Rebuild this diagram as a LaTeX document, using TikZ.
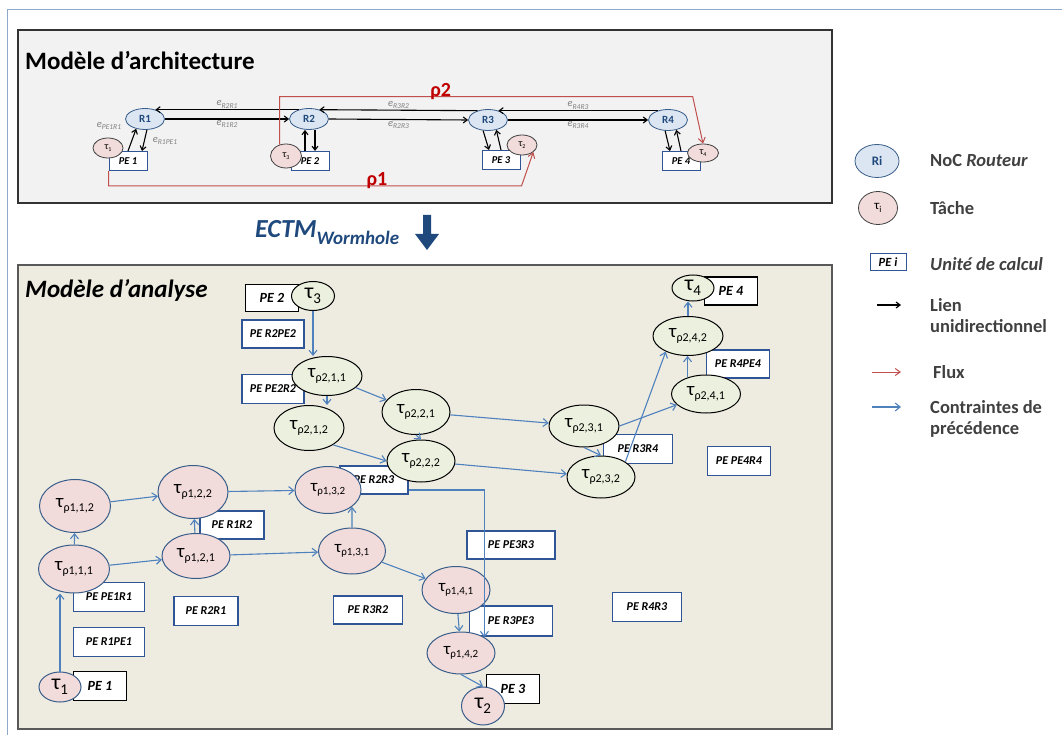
\documentclass[tikz,border=0pt]{standalone}
\usepackage{fontspec}
\setmainfont{Carlito}
\usetikzlibrary{arrows.meta, positioning, shapes.geometric}

\definecolor{rtfill}{HTML}{DCE6F2}
\definecolor{rtdraw}{HTML}{385D8A}
\definecolor{rttext}{HTML}{1F497D}
\definecolor{tkfill}{HTML}{F2DCDB}
\definecolor{grfill}{HTML}{EBF1DE}
\definecolor{pedraw}{HTML}{2F5597}
\definecolor{precblue}{HTML}{4F81BD}
\definecolor{fluxred}{HTML}{C0504D}
\definecolor{rhored}{HTML}{C00000}
\definecolor{elgray}{HTML}{808080}
\definecolor{leggray}{HTML}{404040}
\definecolor{topfill}{HTML}{F2F2F2}
\definecolor{botfill}{HTML}{EEECE1}
\definecolor{framecol}{HTML}{8EA9C8}

\newcommand{\tauidx}[3]{{\fontsize{#1}{#1}\selectfont τ}{\fontsize{#2}{#2}\selectfont\raisebox{-0.3em}{#3}}}
\newcommand{\elab}[1]{e{\fontsize{7.5}{7.5}\selectfont\raisebox{-0.3em}{#1}}}

\begin{document}
\begin{tikzpicture}[
    x=1pt, y=-1pt,
    panel/.style={line width=1.2pt},
    title/.style={anchor=base west, inner sep=0pt, font=\bfseries\fontsize{25}{25}\selectfont},
    router/.style={ellipse, draw=rtdraw, fill=rtfill, text=rttext, line width=0.8pt, inner sep=0pt, minimum width=39pt, minimum height=21pt, font=\bfseries\fontsize{11}{11}\selectfont},
    archtask/.style={ellipse, draw=leggray, fill=tkfill, line width=0.8pt, inner sep=0pt, minimum width=30pt, minimum height=20pt},
    archpe/.style={rectangle, draw=pedraw, fill=white, line width=1pt, inner sep=0pt, minimum width=38pt, minimum height=19pt, font=\bfseries\itshape\fontsize{10.5}{10.5}\selectfont},
    elab/.style={text=elgray, inner sep=1pt, font=\itshape\fontsize{10.5}{10.5}\selectfont},
    link/.style={-{Straight Barb[length=4pt, width=6pt]}, line width=1.1pt},
    flux/.style={-{Straight Barb[length=5pt, width=7pt]}, draw=fluxred, line width=1pt},
    rho/.style={text=rhored, anchor=base, inner sep=0pt, font=\bfseries\fontsize{20}{20}\selectfont},
    pinktask/.style={ellipse, draw=rtdraw, fill=tkfill, line width=1pt, inner sep=0pt},
    greentask/.style={ellipse, draw=black, fill=grfill, line width=1pt, inner sep=0pt},
    pebox/.style={rectangle, draw=pedraw, fill=white, line width=1.3pt, inner sep=0pt, minimum width=64pt, minimum height=28pt, font=\bfseries\itshape\fontsize{12}{12}\selectfont},
    pemain/.style={pebox, draw=black, line width=1.7pt, minimum width=53pt, minimum height=28pt, font=\bfseries\itshape\fontsize{14}{14}\selectfont},
    prec/.style={-{Straight Barb[length=5pt, width=8pt]}, draw=precblue, line width=1.1pt},
    legtext/.style={anchor=west, align=left, text=leggray, inner sep=0pt, font=\bfseries\fontsize{18.5}{21}\selectfont}
]
\useasboundingbox (0,0) rectangle (1062,735);
\draw[framecol, line width=0.8pt] (7,735) -- (7,9) -- (1062,9);

\draw[panel, fill=topfill, draw=black!80] (18,30) rectangle (832,203);
\draw[panel, fill=botfill, draw=black!65] (18,265) rectangle (832,729);
\node[title] (archtitle) at (25,70) {Modèle d’architecture};
\node[title, font=\bfseries\itshape\fontsize{25}{25}\selectfont] (anatitle) at (25,297) {Modèle d’analyse};

\node[router] (R1) at (145,119) {R1};
\node[router] (R2) at (309,119) {R2};
\node[router] (R3) at (488,120) {R3};
\node[router] (R4) at (668,120) {R4};
\node[archpe] (PE1) at (128,161) {PE 1};
\node[archpe] (PE2) at (310,161) {PE 2};
\node[archpe] (PE3) at (501,160) {PE 3};
\node[archpe] (PE4) at (681,161) {PE 4};
\node[archtask] (T1) at (108,148) {\tauidx{10}{6}{1}};
\node[archtask, minimum width=31pt, minimum height=24pt] (T3) at (286,156) {\tauidx{10}{6}{3}};
\node[archtask] (T2) at (522,145) {\tauidx{10}{6}{2}};
\node[archtask, minimum width=31pt, minimum height=18pt] (T4) at (703,153) {\tauidx{10}{6}{4}};
\node[elab] (ePE1R1) at (109,126) {\elab{PE1R1}};
\node[elab] (eR1PE1) at (165,141) {\elab{R1PE1}};

\draw[link] (R2.138) -- node[elab, above] {\elab{R2R1}} (R1.42);
\draw[link] (R1.east) -- node[elab, below] {\elab{R1R2}} (R2.west);
\draw[link] (R3.138) -- node[elab, above] {\elab{R3R2}} (R2.42);
\draw[link] (R2.east) -- node[elab, below] {\elab{R2R3}} (R3.west);
\draw[link] (R4.138) -- node[elab, above] {\elab{R4R3}} (R3.42);
\draw[link] (R3.east) -- node[elab, below] {\elab{R3R4}} (R4.west);
\draw[link] (PE1.north) -- (R1.-132);
\draw[link] (R1.-80) -- ([xshift=14pt]PE1.north);
\draw[link] ([xshift=-5pt]PE2.north) -- ([xshift=-4pt]R2.south);
\draw[link] ([xshift=6pt]R2.south) -- ([xshift=5pt]PE2.north);
\draw[link] (R3.-115) -- ([xshift=-12pt]PE3.north);
\draw[link] (PE3.north) -- (R3.-50);
\draw[link] (R4.-105) -- ([xshift=-11pt]PE4.north);
\draw[link] (PE4.north) -- (R4.-50);
\draw[flux] (PE1.south west) -- ++(0,15) -- node[rho, pos=.65] {ρ1} ++(413,0) -- (T2.-32);
\draw[flux] (T3.119) -- ++(0,-48) -- node[rho, pos=.39] {ρ2} ++(413,0) -- (T4.north);

\node[anchor=base west, inner sep=0pt, text=rttext, font=\bfseries\itshape\fontsize{26}{26}\selectfont] (ectm) at (255,238) {ECTM\raisebox{-7pt}{\fontsize{19}{19}\selectfont Wormhole}};
\fill[rttext] (423,215) -- (431,215) -- (431,234) -- (439,234) -- (427,250) -- (415,234) -- (423,234) -- cycle;

\node[router, minimum width=44pt, minimum height=33pt, font=\bfseries\fontsize{13}{13}\selectfont] (lgR) at (877,161) {Ri};
\node[archtask, minimum width=39pt, minimum height=33pt] (lgT) at (878,208) {\tauidx{13}{9}{i}};
\node[archpe, minimum width=36pt, minimum height=16pt, font=\bfseries\itshape\fontsize{12.5}{12.5}\selectfont] (lgPE) at (888,262) {PE i};
\coordinate (lgk1) at (877,305);
\coordinate (lgk2) at (901,305);
\coordinate (lgf1) at (872,372);
\coordinate (lgf2) at (901,372);
\coordinate (lgp1) at (872,407);
\coordinate (lgp2) at (901,407);
\draw[link, line width=1.2pt] (lgk1) -- (lgk2);
\draw[flux] (lgf1) -- (lgf2);
\draw[prec] (lgp1) -- (lgp2);
\node[legtext] (lgRtxt) at (930,161) {NoC \textit{Routeur}};
\node[legtext] (lgTtxt) at (930,208) {Tâche};
\node[legtext, font=\bfseries\itshape\fontsize{18.5}{21}\selectfont] (lgPEtxt) at (930,264) {Unité de calcul};
\node[legtext] (lgLtxt) at (930,316) {Lien\\unidirectionnel};
\node[legtext] (lgFtxt) at (933,372) {Flux};
\node[legtext] (lgCtxt) at (930,419) {Contraintes de\\précédence};

\node[pebox, minimum width=62pt] (peR2PE2) at (273,334) {PE R2PE2};
\node[pebox, minimum width=62pt, minimum height=29pt] (pePE2R2) at (273,389) {PE PE2R2};
\node[pebox, minimum width=68pt] (peR2R3) at (374,480) {PE R2R3};
\node[pebox] (peR1R2) at (232,525) {PE R1R2};
\node[pebox, minimum width=71pt, minimum height=29pt] (pePE1R1) at (109,597) {PE PE1R1};
\node[pebox, minimum height=29pt] (peR2R1) at (206,611) {PE R2R1};
\node[pebox, minimum width=69pt] (peR3R2) at (368,610) {PE R3R2};
\node[pebox, minimum width=71pt, minimum height=29pt] (peR1PE1) at (109,642) {PE R1PE1};
\node[pebox, minimum width=88pt] (pePE3R3) at (511,545) {PE PE3R3};
\node[pebox, minimum width=83pt, minimum height=30pt] (peR3PE3) at (511,621) {PE R3PE3};
\node[pebox, minimum width=69pt, minimum height=29pt] (peR4R3) at (647,607) {PE R4R3};
\node[pebox, minimum width=63pt] (peR4PE4) at (738,364) {PE R4PE4};
\node[pebox, minimum width=69pt, minimum height=29pt] (peR3R4) at (638,449) {PE R3R4};
\node[pebox, minimum width=63pt, minimum height=29pt] (pePE4R4) at (739,461) {PE PE4R4};
\node[pemain, minimum height=27pt] (pe2) at (272,298) {PE 2};
\node[pemain, minimum height=29pt] (pe1) at (100,686) {PE 1};
\node[pemain, minimum height=29pt] (pe3) at (513,689) {PE 3};
\node[pemain] (pe4) at (731,291) {PE 4};

\node[greentask, minimum width=43pt, minimum height=29pt] (t3) at (313,296) {\tauidx{22}{15}{3}};
\node[greentask, minimum width=70pt, minimum height=39pt] (t211) at (327,376) {\tauidx{19}{12}{ρ2,1,1}};
\node[greentask, minimum width=70pt, minimum height=45pt] (t212) at (309,428) {\tauidx{19}{12}{ρ2,1,2}};
\node[greentask, minimum width=68pt, minimum height=45pt] (t221) at (416,412) {\tauidx{19}{12}{ρ2,2,1}};
\node[greentask, minimum width=68pt, minimum height=42pt] (t222) at (421,461) {\tauidx{19}{12}{ρ2,2,2}};
\node[greentask, minimum width=70pt, minimum height=42pt] (t231) at (584,426) {\tauidx{19}{12}{ρ2,3,1}};
\node[greentask, minimum width=68pt, minimum height=42pt] (t232) at (601,477) {\tauidx{19}{12}{ρ2,3,2}};
\node[greentask, minimum width=69pt, minimum height=38pt] (t241) at (706,394) {\tauidx{19}{12}{ρ2,4,1}};
\node[greentask, minimum width=70pt, minimum height=39pt] (t242) at (688,336) {\tauidx{19}{12}{ρ2,4,2}};
\node[greentask, minimum width=42pt, minimum height=26pt] (t4) at (693,288) {\tauidx{22}{15}{4}};
\node[pinktask, minimum width=42pt, minimum height=30pt] (t1) at (60,687) {\tauidx{22}{15}{1}};
\node[pinktask, minimum width=71pt, minimum height=48pt] (t111) at (74,569) {\tauidx{19}{12}{ρ1,1,1}};
\node[pinktask, minimum width=71pt, minimum height=53pt] (t112) at (75,506) {\tauidx{19}{12}{ρ1,1,2}};
\node[pinktask, minimum width=68pt, minimum height=45pt] (t121) at (196,556) {\tauidx{19}{12}{ρ1,2,1}};
\node[pinktask, minimum width=70pt, minimum height=53pt] (t122) at (193,492) {\tauidx{19}{12}{ρ1,2,2}};
\node[pinktask, minimum width=67pt, minimum height=46pt] (t131) at (352,551) {\tauidx{17}{11}{ρ1,3,1}};
\node[pinktask, minimum width=66pt, minimum height=47pt] (t132) at (328,490) {\tauidx{17}{11}{ρ1,3,2}};
\node[pinktask, minimum width=68pt, minimum height=47pt] (t141) at (456,590) {\tauidx{17}{11}{ρ1,4,1}};
\node[pinktask, minimum width=68pt, minimum height=42pt] (t142) at (461,653) {\tauidx{17}{11}{ρ1,4,2}};
\node[pinktask, minimum width=43pt, minimum height=38pt] (t2) at (483,706) {\tauidx{22}{15}{2}};

\draw[prec] (t3.south) -- (t3.south |- t211.north);
\draw[prec] (t211.south) -- (t211.south |- t212.north);
\draw[prec] (t211) -- (t221);
\draw[prec] (t212.-35) -- (t222.west);
\draw[prec] (t221.south) -- (t222.north);
\draw[prec] (t221) -- (t231);
\draw[prec] (t222) -- (t232);
\draw[prec] (t231.south) -- (t232.north);
\draw[prec] (t231.east) -- (t241);
\draw[prec] (t232.32) -- (t242.-145);
\draw[prec] (t241.138) -- (t241.138 |- t242.south);
\draw[prec] (t242.north) -- (t242.north |- t4.south);
\draw[prec] (t1.north) -- (t1.north |- t111.south);
\draw[prec] (t111) -- (t112);
\draw[prec] (t111) -- (t121);
\draw[prec] (t112) -- (t122);
\draw[prec] (t121) -- (t122);
\draw[prec] (t121) -- (t131);
\draw[prec] (t122) -- (t132);
\draw[prec] (t131.north) -- (t132.-35);
\draw[prec] (t131) -- (t141);
\draw[prec] (t141) -- (t142);
\draw[prec] (t132.east -| peR2R3.east) -| (t142.34);
\draw[prec] (t142.south) -- (t2.north);
\end{tikzpicture}
\end{document}
